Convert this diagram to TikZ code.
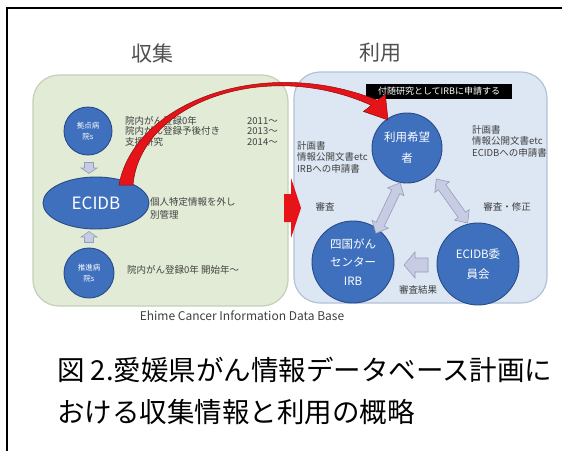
\documentclass[tikz,border=0pt]{standalone}
\usepackage{fontspec}
\newfontfamily\jp{Noto Sans CJK JP}
\usetikzlibrary{shapes.geometric}
\definecolor{greenfill}{RGB}{226,235,214}
\definecolor{greenedge}{RGB}{196,208,184}
\definecolor{bluefill}{RGB}{221,231,243}
\definecolor{blueedge}{RGB}{178,194,216}
\definecolor{nodeblue}{RGB}{63,112,190}
\definecolor{nodeedge}{RGB}{40,75,135}
\definecolor{lav}{RGB}{200,204,226}
\definecolor{laved}{RGB}{150,156,190}
\definecolor{txtgray}{RGB}{64,64,64}
\definecolor{titlegray}{RGB}{80,80,80}
\definecolor{arrred}{RGB}{230,20,25}
\begin{document}
\begin{tikzpicture}[x=1pt,y=-1pt,
  every node/.style={inner sep=0pt, font=\jp},
  panelg/.style={fill=greenfill, draw=greenedge, line width=1.2pt, rounded corners=26pt},
  panelb/.style={fill=bluefill, draw=blueedge, line width=1.2pt, rounded corners=26pt},
  bnode/.style={circle, fill=nodeblue, draw=nodeedge, line width=0.9pt, text=white, align=center},
  lbl/.style={text=txtgray, font=\jp\fontsize{9.5}{11.5}\selectfont, align=left},
  blk/.style={fill=lav, draw=laved, line width=0.6pt},
  redarr/.style={fill=arrred, draw=arrred!60!black, line width=0.5pt},
]
\useasboundingbox (0,0) rectangle (562,450);
\fill[white] (0,0) rectangle (562,450);
\draw[line width=1.5pt] (7,452) -- (7,8) -- (564,8);

% panels
\draw[panelg] (33,75) rectangle (288,306);
\draw[panelb] (294,72) rectangle (547,303);

% titles
\node[text=titlegray, font=\jp\fontsize{21}{24}\selectfont] (tcol) at (152,53) {収集};
\node[text=titlegray, font=\jp\fontsize{21}{24}\selectfont] (tuse) at (380,53) {利用};

% left panel nodes
\node[bnode, minimum size=48pt, font=\jp\fontsize{7.5}{11}\selectfont] (hub) at (88,131) {拠点病\\院s};
\node[ellipse, fill=nodeblue, draw=nodeedge, line width=0.9pt, minimum width=106pt, minimum height=52pt, text=white, font=\jp\fontsize{17}{20}\selectfont] (ecidb) at (96,203) {ECIDB};
\node[bnode, minimum size=50pt, font=\jp\fontsize{7.5}{11}\selectfont] (prom) at (89,273) {推進病\\院s};

% small block arrows
\begin{scope}[shift={(89,168)}, rotate=-90]
  \draw[blk] (-5.5,-4.5) -- (0,-4.5) -- (0,-8) -- (5.5,0) -- (0,8) -- (0,4.5) -- (-5.5,4.5) -- cycle;
\end{scope}
\begin{scope}[shift={(89,237)}, rotate=90]
  \draw[blk] (-5.5,-4.5) -- (0,-4.5) -- (0,-8) -- (5.5,0) -- (0,8) -- (0,4.5) -- (-5.5,4.5) -- cycle;
\end{scope}

% left panel texts
\node[lbl, anchor=west] (r1) at (125,121) {院内がん登録0年};
\node[lbl, anchor=west] (r2) at (125,131) {院内がん登録予後付き};
\node[lbl, anchor=west] (r3) at (125,142) {支援研究};
\node[lbl, anchor=west] (y1) at (247,121) {2011～};
\node[lbl, anchor=west] (y2) at (247,131) {2013～};
\node[lbl, anchor=west] (y3) at (247,142) {2014～};
\node[lbl, anchor=west] (sep1) at (150,202) {個人特定情報を外し};
\node[lbl, anchor=west] (sep2) at (150,215) {別管理};
\node[lbl, anchor=west] (start) at (127,270) {院内がん登録0年 開始年～};

% right panel
\node[fill=black, text=white, minimum width=146pt, minimum height=15pt, font=\jp\fontsize{9}{10}\selectfont] (note) at (439,91) {付随研究としてIRBに申請する};
\node[bnode, minimum size=70pt, font=\jp\fontsize{11.5}{21}\selectfont] (user) at (407,148) {利用希望\\者};
\node[bnode, minimum size=82pt, font=\jp\fontsize{11.5}{18.5}\selectfont] (irb) at (353,262) {四国がん\\センター\\IRB};
\node[bnode, minimum size=82pt, font=\jp\fontsize{11.5}{20}\selectfont] (com) at (478,264) {ECIDB委\\員会};

\node[lbl, anchor=north west] (docs1) at (297,141) {計画書\\情報公開文書etc\\IRBへの申請書};
\node[lbl, anchor=north west] (docs2) at (472,125) {計画書\\情報公開文書etc\\ECIDBへの申請書};
\node[lbl] (rev1) at (325,207) {審査};
\node[lbl] (rev2) at (507,207) {審査・修正};
\node[lbl] (res) at (418,290) {審査結果};

% double block arrows
\begin{scope}[shift={(388,208)}, rotate=64.4]
  \draw[blk] (-28,0) -- (-18,-9) -- (-18,-4.5) -- (18,-4.5) -- (18,-9) -- (28,0) -- (18,9) -- (18,4.5) -- (-18,4.5) -- (-18,9) -- cycle;
\end{scope}
\begin{scope}[shift={(452,201)}, rotate=-54.5]
  \draw[blk] (-27,0) -- (-17,-9) -- (-17,-4.5) -- (17,-4.5) -- (17,-9) -- (27,0) -- (17,9) -- (17,4.5) -- (-17,4.5) -- (-17,9) -- cycle;
\end{scope}
\begin{scope}[shift={(416,265)}, rotate=180]
  \draw[blk] (-12,-7) -- (1,-7) -- (1,-13) -- (12,0) -- (1,13) -- (1,7) -- (-12,7) -- cycle;
\end{scope}

% red curved arrow ECIDB -> user
\draw[redarr] (119,185) .. controls (134,103) and (262,54) .. (377.5,100.3) -- (385.3,94.1) -- (388,120) -- (363.5,111.5) -- (371.3,105.3) .. controls (264,57) and (140,104) .. (133,185) -- cycle;

% red block arrow between panels
\fill[arrred] (284,194) -- (291,194) -- (291,178) -- (301,208) -- (291,238) -- (291,222) -- (284,222) -- cycle;

% footer
\node[text=txtgray, font=\jp\fontsize{12}{14}\selectfont] (ecdb) at (242,316) {Ehime Cancer Information Data Base};
\node[anchor=west, font=\jp\fontsize{27.5}{30}\selectfont] (cap1) at (57,370) {図 2.愛媛県がん情報データベース計画に};
\node[anchor=west, font=\jp\fontsize{27.5}{30}\selectfont] (cap2) at (57,412) {おける収集情報と利用の概略};
\end{tikzpicture}
\end{document}
